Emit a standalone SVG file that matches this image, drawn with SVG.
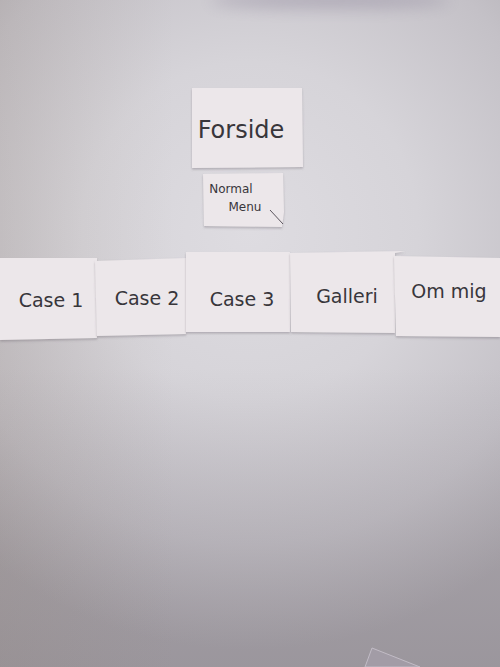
<svg xmlns="http://www.w3.org/2000/svg" width="500" height="667" viewBox="0 0 500 667">
<defs>
<radialGradient id="light" gradientUnits="userSpaceOnUse" cx="250" cy="230" r="420">
<stop offset="0" stop-color="#dedce1"/>
<stop offset="0.4" stop-color="#d6d4d9"/>
<stop offset="0.75" stop-color="#c4c1c7"/>
<stop offset="1" stop-color="#aeaab0"/>
</radialGradient>
<linearGradient id="bottom" x1="0" y1="0" x2="0" y2="1">
<stop offset="0.55" stop-color="#6f6870" stop-opacity="0"/>
<stop offset="1" stop-color="#6f6870" stop-opacity="0.3"/>
</linearGradient>
<linearGradient id="leftwarm" x1="0" y1="0" x2="1" y2="0">
<stop offset="0" stop-color="#8a7a6a" stop-opacity="0.15"/>
<stop offset="0.35" stop-color="#8a7a6a" stop-opacity="0"/>
</linearGradient>
<filter id="blur" x="-50%" y="-200%" width="200%" height="500%">
<feGaussianBlur stdDeviation="8"/>
</filter>
<filter id="sh" x="-10%" y="-10%" width="120%" height="130%">
<feDropShadow dx="0" dy="1.5" stdDeviation="1.2" flood-color="#6a6470" flood-opacity="0.4"/>
</filter>
</defs>
<style>
.card{fill:#ece7ea;filter:url(#sh)}
.t{font-family:"DejaVu Sans","Liberation Sans",sans-serif;fill:#38363b;text-anchor:middle}
</style>
<rect width="500" height="667" fill="url(#light)"/>
<rect width="500" height="667" fill="url(#bottom)"/>
<rect width="500" height="667" fill="url(#leftwarm)"/>
<ellipse cx="330" cy="0" rx="120" ry="8" fill="#8a8298" opacity="0.45" filter="url(#blur)"/>
<g id="forside">
<polygon class="card" points="192,88 302,88 303,167 192,168"/>
<text class="t" x="241" y="138" font-size="24">Forside</text>
</g>
<g id="normal-menu">
<polygon class="card" points="203,174 283,173 284,212 282,227 204,226"/>
<path d="M270,210 L283,224" stroke="#5a555d" stroke-width="1" fill="none"/>
<text class="t" x="231" y="193" font-size="12">Normal</text>
<text class="t" x="245" y="211" font-size="12">Menu</text>
</g>
<g id="case1">
<polygon class="card" points="0,258 97,258 97,338 0,340"/>
<text class="t" x="51" y="307" font-size="19">Case 1</text>
</g>
<g id="case2">
<polygon class="card" points="95,261 186,258 186,334 97,336"/>
<text class="t" x="147" y="305" font-size="19">Case 2</text>
</g>
<g id="case3">
<polygon class="card" points="186,252 290,252 290,332 186,332"/>
<text class="t" x="242" y="306" font-size="19">Case 3</text>
</g>
<g id="galleri">
<polygon class="card" points="290,253 405,251 395,253 395,333 291,332"/>
<text class="t" x="347" y="303" font-size="19">Galleri</text>
</g>
<g id="om-mig">
<polygon class="card" points="394,256 500,258 500,337 396,336"/>
<text class="t" x="449" y="298" font-size="19">Om mig</text>
</g>
<polygon points="372,648 420,667 365,667" fill="#a29ca6" stroke="#c2bcc6" stroke-width="1"/>
</svg>
